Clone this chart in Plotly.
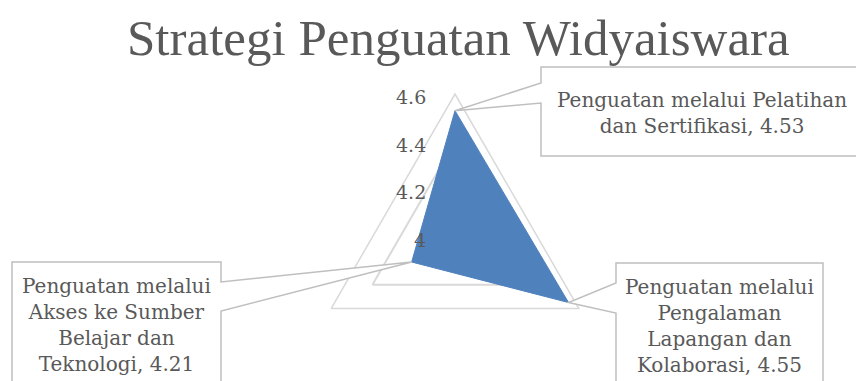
import math
import plotly.graph_objects as go

# ---- data ----
categories = [
    "Penguatan melalui Pelatihan dan Sertifikasi",
    "Penguatan melalui Pengalaman Lapangan dan Kolaborasi",
    "Penguatan melalui Akses ke Sumber Belajar dan Teknologi",
]
values = [4.53, 4.55, 4.21]
label_texts = [
    "Penguatan melalui Pelatihan<br>dan Sertifikasi, 4.53",
    "Penguatan melalui<br>Pengalaman<br>Lapangan dan<br>Kolaborasi, 4.55",
    "Penguatan melalui<br>Akses ke Sumber<br>Belajar dan<br>Teknologi, 4.21",
]
tick_vals = [4.0, 4.2, 4.4, 4.6]
tick_text = ["4", "4.2", "4.4", "4.6"]
r_min, r_max = 4.0, 4.6
title_text = "Strategi Penguatan Widyaiswara"

W, H = 864, 381
OFF = 8  # page body margin: figure is drawn 8px right/down
FONT = "DejaVu Serif"
TITLE_FONT = "Liberation Serif"
TXT = "#595959"
BORDER = "#bfbfbf"

# polar geometry in (screen) pixels
cx, cy, R = 455.0, 237.0, 143.0

def px(x):
    return (x - OFF) / W

def py(y):
    return 1 - (y - OFF) / H

def point_px(i):
    ang = math.radians(90 - 120 * i)
    rr = (values[i] - r_min) / (r_max - r_min) * R
    return cx + rr * math.cos(ang), cy - rr * math.sin(ang)

fig = go.Figure()
fig.add_trace(go.Scatterpolar(
    r=values + [values[0]],
    theta=categories + [categories[0]],
    mode="lines",
    fill="toself",
    fillcolor="#4f81bd",
    line=dict(color="#4f81bd", width=1),
    hoverinfo="skip",
))

def path_str(pts):
    return "M " + " L ".join(f"{px(x):.5f},{py(y):.5f}" for x, y in pts) + " Z"

shapes = []
annotations = []

def label(x, y, text):
    annotations.append(dict(x=px(x), y=py(y), xref="paper", yref="paper",
                            text=text, showarrow=False, align="center",
                            xanchor="center", yanchor="middle",
                            font=dict(family=FONT, size=20, color=TXT)))

# top callout (category 0)
p0 = point_px(0)
shapes.append(dict(type="path", xref="paper", yref="paper",
                   path=path_str([(541, 67), (863, 67), (863, 156), (541, 156),
                                  (541, 103), p0, (541, 83)]),
                   line=dict(color=BORDER, width=1.5), fillcolor="white", layer="above"))
label(702, 113, label_texts[0])

# right callout (category 1)
p1 = point_px(1)
shapes.append(dict(type="path", xref="paper", yref="paper",
                   path=path_str([(616, 263), (823, 263), (823, 400), (616, 400),
                                  (616, 313), p1, (616, 283)]),
                   line=dict(color=BORDER, width=1.5), fillcolor="white", layer="above"))
label(719.5, 326, label_texts[1])

# left callout (category 2)
p2 = point_px(2)
shapes.append(dict(type="path", xref="paper", yref="paper",
                   path=path_str([(12, 262), (221, 262), (221, 282), p2,
                                  (221, 311), (221, 400), (12, 400)]),
                   line=dict(color=BORDER, width=1.5), fillcolor="white", layer="above"))
label(116.5, 325, label_texts[2])

# radial tick labels placed at the axis tick positions
for tv, tt in zip(tick_vals, tick_text):
    ty = cy - (tv - r_min) / (r_max - r_min) * R
    annotations.append(dict(x=px(cx - 27), y=py(ty + 3), xref="paper", yref="paper",
                            text=tt, showarrow=False, xanchor="right", yanchor="middle",
                            font=dict(family=FONT, size=19, color=TXT)))

# title
annotations.append(dict(x=px(458), y=1, xref="paper", yref="paper",
                        text=title_text, showarrow=False,
                        xanchor="center", yanchor="top",
                        font=dict(family=TITLE_FONT, size=51, color=TXT)))

fig.update_layout(
    width=W, height=H,
    margin=dict(l=0, r=0, t=0, b=0),
    paper_bgcolor="white",
    showlegend=False,
    shapes=shapes,
    annotations=annotations,
    polar=dict(
        domain=dict(x=[px(cx - R), px(cx + R)], y=[py(cy + R), py(cy - R)]),
        bgcolor="white",
        gridshape="linear",
        radialaxis=dict(
            range=[r_min, r_max],
            tickvals=tick_vals,
            showticklabels=False,
            angle=90,
            showline=False,
            ticks="",
            gridcolor="#d9d9d9",
            gridwidth=1.5,
            layer="below traces",
        ),
        angularaxis=dict(
            rotation=90,
            direction="clockwise",
            showgrid=False,
            showticklabels=False,
            ticks="",
            showline=True,
            linecolor="#d9d9d9",
            linewidth=1.5,
            layer="below traces",
        ),
    ),
)

fig.write_html("out.html")
